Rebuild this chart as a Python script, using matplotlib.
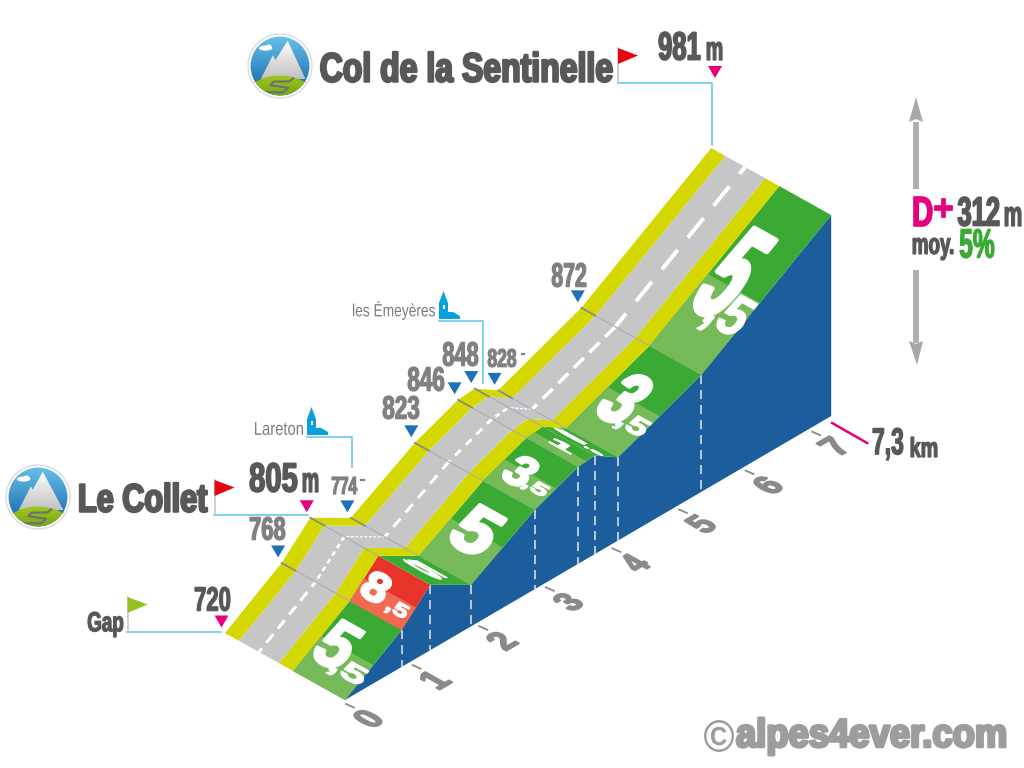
import numpy as np
import matplotlib
matplotlib.use("Agg")
import matplotlib.pyplot as plt
import matplotlib.patheffects as pe
from matplotlib.patches import Polygon, Circle, Ellipse
from matplotlib.transforms import Affine2D
from matplotlib.colors import LinearSegmentedColormap

# Profile
km_points = [0, 0.85, 1.28, 1.89, 2.85, 3.5, 3.75, 4.1, 5.35, 7.3]
alt_points = [720, 768, 805, 774, 823, 846, 848, 828, 872, 981]
grade_main = ["5", "8", "5", "5", "3", "1", "5", "3", "5"]
grade_dec = [",5", ",5", "", "", ",5", "", ",5", ",5", ",5"]
km_ticks = [0, 1, 2, 3, 4, 5, 6, 7]
marker_kind = ["pass", "town", "pass", "town", "town", "town", "town", "town", "town", "pass"]

W, H = 1024, 768
GREY_TXT = "#58585a"
LIGHT_TXT = "#808080"
CYAN = "#5cc6ea"
MAGENTA = "#e6007e"
MARK_BLUE = "#1d71b8"

# projection used by the road: origin, per km and per metre, depth of the road
X0, Y0 = 345.0, 700.0
KM_DX, KM_DY = 66.6, -38.9
M_DY = -0.77
DEPTH = np.array([-120.0, -67.0])
T_GREEN, T_YEL1, T_GREY, = 0.433, 0.55, 0.883
T_DASH = 0.717


def base(km):
    return np.array([X0 + KM_DX * km, Y0 + KM_DY * km])


def pt(i, t=0.0, s=0.0):
    # point on the ramp at section i, s along the next section, t across
    a = base(km_points[i]) + [0, M_DY * (alt_points[i] - alt_points[0])]
    if s:
        b = base(km_points[i + 1]) + [0, M_DY * (alt_points[i + 1] - alt_points[0])]
        a = a + s * (b - a)
    return a + t * DEPTH


class FitBox(pe.AbstractPathEffect):
    # squeezes real text into a parallelogram, the font here is no Impact
    def __init__(self, c, u, v, stroke=0.0):
        super().__init__()
        self.c, self.u, self.v, self.stroke = c, u, v, stroke

    def draw_path(self, renderer, gc, tpath, affine, rgbFace=None):
        box = tpath.get_extents(affine)
        fit = Affine2D().translate(-box.x0 - box.width / 2, -box.y0 - box.height / 2)
        fit = fit.scale(1 / box.width, 1 / box.height)
        fit = fit + Affine2D.from_values(self.u[0], -self.u[1], self.v[0], -self.v[1],
                                         self.c[0], H - self.c[1])
        gc0 = renderer.new_gc()
        gc0.copy_properties(gc)
        gc0.set_linewidth(self.stroke)
        gc0.set_foreground(rgbFace)
        gc0.set_joinstyle("round")
        renderer.draw_path(gc0, tpath, affine + fit, rgbFace)
        gc0.restore()


def fit_text(s, c, u, v, color, stroke=0.9, weight="bold", size=None, z=10):
    # u: width vector in picture pixels, v: height vector (pointing up on screen)
    v_len = np.hypot(*v)
    t = ax.text(c[0], c[1], s, color=color, ha="center", va="center", family="Liberation Sans",
                weight=weight, fontsize=size or max(6, v_len * 0.7), zorder=z, clip_on=False)
    t.set_path_effects([FitBox(c, u, v, stroke)])
    return t


def box_text(s, x0, x1, y0, y1, color, stroke=0.9, weight="bold", z=10):
    return fit_text(s, ((x0 + x1) / 2, (y0 + y1) / 2), (x1 - x0, 0), (0, y0 - y1), color, stroke, weight, z=z)


def poly(points, color, z=2, **kw):
    p = Polygon(points, closed=True, facecolor=color, edgecolor=kw.pop("edgecolor", "none"), zorder=z, **kw)
    ax.add_patch(p)
    return p


def gradient(extent, top, bottom, clip, z):
    cmap = LinearSegmentedColormap.from_list("g", [top, bottom])
    im = ax.imshow(np.linspace(0, 1, 64).reshape(-1, 1), extent=extent, cmap=cmap, aspect="auto",
                   zorder=z, interpolation="bilinear")
    im.set_clip_path(clip)


def logo(cx, cy, r, peak):
    def p(dx, dy):
        return (cx + dx * r, cy + dy * r)
    ax.add_patch(Circle((cx, cy), r, facecolor="white", edgecolor="#d5dde2", lw=1, zorder=3))
    disc = Circle((cx, cy), r * 0.92, facecolor="none", edgecolor="none", zorder=3)
    ax.add_patch(disc)
    gradient((cx - r, cx + r, cy + r, cy - r), "#6cc2ec", "#0b5fa5", disc, 3.1)
    ax.add_patch(Ellipse(p(-0.45, -0.56), 0.42 * r, 0.16 * r, facecolor="white", zorder=3.2))
    ax.add_patch(Ellipse(p(-0.36, -0.6), 0.2 * r, 0.14 * r, facecolor="white", zorder=3.2))
    for tri in ([p(-0.22, -0.34), p(-0.6, 0.4), p(0.15, 0.4)],
                [p(peak, -0.79), p(-0.52, 0.4), p(0.8, 0.42)]):
        m = poly(tri, "none", z=3.3)
        gradient((cx - r, cx + r, cy + 0.42 * r, cy - 0.8 * r), "#ffffff", "#c2c2c2", m, 3.3)
    # hill: top of a wide ellipse, bottom of the disc
    xs = np.linspace(-0.8, 0.8, 41)
    top = 0.88 - 0.58 * np.sqrt(1 - xs ** 2)
    low = np.sqrt(0.92 ** 2 - xs ** 2)
    hill = poly([p(a, b) for a, b in zip(xs, top)] + [p(a, b) for a, b in zip(xs[::-1], low[::-1])], "none", z=3.5)
    gradient((cx - r, cx + r, cy + r, cy + 0.3 * r), "#a4c71f", "#6fa312", hill, 3.5)
    # the small winding road on the hill
    road = np.array([[-0.5, 0.82], [0.1, 0.82], [0.25, 0.68], [-0.3, 0.6], [-0.2, 0.49], [0.3, 0.48], [0.42, 0.38]])
    rl, = ax.plot(cx + road[:, 0] * r, cy + road[:, 1] * r, color="#6f7072", lw=1.5, zorder=3.6,
                  solid_joinstyle="round", solid_capstyle="round")
    rl.set_clip_path(disc)


def flag(x, top, bottom, color):
    ax.plot([x, x], [top, bottom], color="#c8c8c8", lw=1.2, zorder=4)
    poly([(x, top), (x + 20, top + 7.5), (x, top + 16)], color, z=4.1)


def church(x, y):
    # x, y : lower left of the icon
    c = "#0a9fe3"
    poly([(x, y), (x, y - 16), (x + 4.5, y - 28), (x + 9, y - 16), (x + 9, y - 7), (x + 14, y - 7),
          (x + 21, y - 3), (x + 21, y)], c, z=4)
    poly([(x + 3.5, y - 14), (x + 5.5, y - 14), (x + 5.5, y - 10), (x + 3.5, y - 10)], "white", z=4.1)


fig = plt.figure(figsize=(W / 100, H / 100), dpi=100, facecolor="white")
ax = fig.add_axes([0, 0, 1, 1])
ax.set_axis_off()

# ---- blue side wall
n = len(km_points)
wall = [tuple(pt(i)) for i in range(n)] + [tuple(base(km_points[-1]))]
poly(wall, "#1b5e9b", z=1)
for i in range(1, n - 1):
    ax.plot([pt(i)[0], base(km_points[i])[0]], [pt(i)[1], base(km_points[i])[1]], color="#d5dde6",
            lw=1.2, linestyle=(0, (5.5, 3.5)), zorder=1.5)

# ---- ramp surface, section by section
light_frac = [0.5, 0.5, 0, 0.5, 0.5, 0.5, 0, 0.5, 0.45]
dash_on = [11, 5, 3, 11, 8, 5, 3, 14, 25]
dash_off = [7, 4, 1.5, 8, 7, 4, 1.5, 8, 16]
dash_lw = [3, 2.5, 1.2, 3, 3, 2.5, 1.2, 3.5, 4]
for i in range(n - 1):
    dark, light = ("#e73329", "#ef6a50") if grade_main[i] == "8" else ("#3aaa35", "#76ba5a")
    quad = lambda t0, t1, s0=0.0, s1=1.0: [pt(i, t0, s0), pt(i, t0, s1 - 1e-9), pt(i, t1, s1 - 1e-9), pt(i, t1, s0)]
    poly(quad(0, T_GREEN), dark, z=2)
    if light_frac[i]:
        poly(quad(0, T_GREEN, 0, light_frac[i]), light, z=2.1)
    poly(quad(T_GREEN, T_YEL1), "#d4d800", z=2)
    poly(quad(T_YEL1, T_GREY), "#c6c6c6", z=2)
    poly(quad(T_GREY, 1), "#d4d800", z=2)
    a, b = pt(i, T_DASH), pt(i + 1, T_DASH)
    ax.plot([a[0], b[0]], [a[1], b[1]], color="white", lw=dash_lw[i] * 0.72, zorder=2.5,
            linestyle=(2, (dash_on[i] / dash_lw[i], dash_off[i] / dash_lw[i])))
    # section limits across the road
    if i > 0:
        a, b = pt(i, T_GREEN), pt(i, T_GREY)
        ax.plot([a[0], b[0]], [a[1], b[1]], color="#a5a5c0", lw=0.7, zorder=2.6)
        a, b = pt(i, T_GREY), pt(i, 1)
        ax.plot([a[0], b[0]], [a[1], b[1]], color="#85858f", lw=1.2, zorder=2.6)

# ---- gradients painted on the ramp: section, s, t, width, height
main_s = [0.50, 0.47, 0.56, 0.518, 0.46, 0.6, 0.52, 0.486, 0.51]
main_t = [0.296, 0.322, 0.234, 0.226, 0.283, 0.21, 0.3, 0.28, 0.29]
main_w = [0.22, 0.17, 0.3, 0.26, 0.17, 0.18, 0.25, 0.2, 0.22]
main_h = [0.55, 0.55, 0.35, 0.5, 0.55, 0.4, 0.3, 0.5, 0.5]
main_stroke = [2.2, 2.0, 0.8, 2.8, 2.0, 0.8, 0.6, 3.0, 3.4]
dec_s = [0.29, 0.29, 0, 0, 0.33, 0, 0.35, 0.31, 0.315]
dec_t = [0.11, 0.105, 0, 0, 0.112, 0, 0.075, 0.093, 0.118]
dec_w = [0.25, 0.15, 0, 0, 0.17, 0, 0.13, 0.2, 0.25]
dec_h = [0.25, 0.3, 0, 0, 0.25, 0, 0.15, 0.2, 0.25]
for i in range(n - 1):
    seg = pt(i + 1) - pt(i)
    fit_text(grade_main[i], tuple(pt(i, main_t[i], main_s[i])), tuple(-DEPTH * main_w[i]),
             tuple(seg * main_h[i]), "white", stroke=main_stroke[i], size=7, z=5)
    if grade_dec[i]:
        fit_text(grade_dec[i], tuple(pt(i, dec_t[i], dec_s[i])), tuple(-DEPTH * dec_w[i]),
                 tuple(seg * dec_h[i]), "white", stroke=1.0, size=7, z=5)

# ---- km scale on the floor
along = np.array([KM_DX, KM_DY])
for k in km_ticks:
    p = base(k)
    ax.plot([p[0] + 1, p[0] + 9], [p[1] + 4, p[1] + 7.5], color="#8a8a8a", lw=1.3, zorder=2)
    fit_text(str(k), (p[0] + 23, p[1] + 18.5), tuple(along * 0.19), tuple(DEPTH * 0.19), "#8a8a8a", stroke=1.3, z=3)
p = base(km_points[-1])
ax.plot([p[0] + 1, p[0] + 36], [p[1] + 7, p[1] + 27], color=MAGENTA, lw=1.8, zorder=2)
box_text("7,3", 873, 903, 428, 460, GREY_TXT)
box_text("km", 911, 937, 437, 457, GREY_TXT)

# ---- pass and town markers on the far edge of the road
for i in range(n):
    c = pt(i, 1.0)
    tip = (715, 78) if i == n - 1 else (c[0] - 3.5, c[1] - 5.5)
    col = MAGENTA if marker_kind[i] == "pass" else MARK_BLUE
    poly([(tip[0] - 7, tip[1] - 12), (tip[0] + 7, tip[1] - 12), tip], col, z=4)

# ---- altitude labels
box_text(str(alt_points[0]), 195, 230, 587, 611, GREY_TXT)
box_text(str(alt_points[1]), 250, 285, 517, 540, LIGHT_TXT)
box_text(str(alt_points[2]), 250, 297, 463, 492, GREY_TXT, stroke=1.2)
box_text("m", 303, 318, 473, 492, GREY_TXT)
box_text(str(alt_points[3]), 332, 357, 477, 494, LIGHT_TXT)
box_text("-", 360, 365, 479, 481, LIGHT_TXT, stroke=0.2)
box_text(str(alt_points[4]), 383, 419, 396, 419, LIGHT_TXT)
box_text(str(alt_points[5]), 408, 444, 367, 391, LIGHT_TXT)
box_text(str(alt_points[6]), 443, 478, 342, 366, LIGHT_TXT)
box_text(str(alt_points[7]), 488, 516, 349, 367, LIGHT_TXT)
box_text("-", 521, 525, 353, 355, LIGHT_TXT, stroke=0.2)
box_text(str(alt_points[8]), 552, 586, 263, 287, LIGHT_TXT)
box_text(str(alt_points[9]), 659, 700, 32, 60, GREY_TXT, stroke=1.2)
box_text("m", 707, 722, 42, 60, GREY_TXT)

# ---- names, flags, leader lines
logo(280, 66, 32, 0.24)
logo(38, 497, 32, 0.15)
box_text("Col de la Sentinelle", 321, 612, 52, 82, GREY_TXT, stroke=1.7)
box_text("Le Collet", 80, 207, 483, 512, GREY_TXT, stroke=1.7)
box_text("Gap", 88, 123, 612, 637, GREY_TXT, stroke=0.9)
box_text("Lareton", 255, 303, 422, 435, "#7d7d7d", stroke=0, weight="normal")
box_text("les Émeyères", 353, 435, 301, 320, "#7d7d7d", stroke=0, weight="normal")

flag(618, 48, 82, "#e30613")
flag(214.5, 480, 513, "#e30613")
flag(127.5, 597, 630, "#95c11f")
ax.plot([618, 712, 712], [83, 83, 145], color=CYAN, lw=1.1, zorder=4)
ax.plot([214, 308], [515, 515], color=CYAN, lw=1.1, zorder=4)
ax.plot([127, 221], [632, 632], color=CYAN, lw=1.1, zorder=4)
ax.plot([307, 352, 352], [437, 437, 467], color=CYAN, lw=1.1, zorder=4)
ax.plot([439, 483, 483], [321, 321, 383], color=CYAN, lw=1.1, zorder=4)
church(307, 435)
church(439, 319)

# ---- total climb on the right
poly([(913, 122), (913, 189), (919, 189), (919, 122)], "#b0b0b0", z=2)
poly([(909, 122), (916, 97), (923, 122), (916, 119)], "#a8a8a8", z=2.1)
poly([(913, 270), (913, 343), (919, 343), (919, 270)], "#b0b0b0", z=2)
poly([(909, 341), (916, 344), (923, 341), (917, 365)], "#a8a8a8", z=2.1)
box_text("D", 914, 932, 197, 226, MAGENTA, stroke=1.2)
box_text("+", 934, 952, 198, 217, MAGENTA, stroke=0.5)
box_text("312", 958, 999, 197, 226, GREY_TXT, stroke=1.2)
box_text("m", 1005, 1021, 207, 226, GREY_TXT)
box_text("moy.", 913, 953, 238, 260, GREY_TXT)
box_text("5%", 960, 994, 229, 258, "#3aaa35")

# ---- watermark
box_text("©", 704, 734, 720, 752, "#9d9d9d", stroke=0)
box_text("alpes4ever.com", 737, 1005, 718, 755, "#9d9d9d", stroke=2.2)

ax.set_xlim(0, W)
ax.set_ylim(H, 0)
fig.savefig("out.png", dpi=100, facecolor="white")
